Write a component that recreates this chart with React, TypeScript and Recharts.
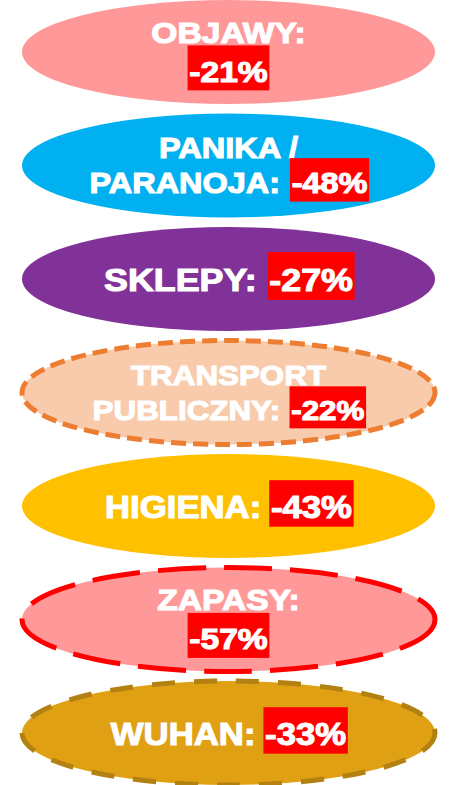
import { ScatterChart, Scatter, XAxis, YAxis } from 'recharts'

const categories = ['OBJAWY', 'PANIKA / PARANOJA', 'SKLEPY', 'TRANSPORT PUBLICZNY', 'HIGIENA', 'ZAPASY', 'WUHAN']
const changes = [-21, -48, -27, -22, -43, -57, -33]

// how the label wraps inside each ellipse
const layouts = ['stack', 'wrap', 'inline', 'wrap', 'inline', 'stack', 'inline']

const fills = ['#FF9999', '#00B0F0', '#803298', '#F8CBAD', '#FFC000', '#FF9999', '#E0A014']
const strokes = ['none', 'none', 'none', '#ED7D31', 'none', '#FF0000', '#B38012']
const dashes = ['', '', '', '15 7', '', '48 18', '23 19']
const fontSizes = [30, 29, 32, 28, 31, 30, 31]

const SX = 1.12
const FONT = '"Liberation Sans", Arial, sans-serif'

// Arial Bold advance widths (em)
const CW: Record<string, number> = {
  A: 0.722, B: 0.722, C: 0.722, D: 0.722, E: 0.667, F: 0.611, G: 0.778, H: 0.722, I: 0.278,
  J: 0.556, K: 0.722, L: 0.611, M: 0.833, N: 0.722, O: 0.778, P: 0.667, Q: 0.778, R: 0.722,
  S: 0.667, T: 0.611, U: 0.722, V: 0.667, W: 0.944, X: 0.667, Y: 0.667, Z: 0.611,
  ':': 0.333, ' ': 0.278, '/': 0.278, '-': 0.333, '%': 0.889,
}
const tw = (s: string, fs: number) => s.split('').reduce((a, c) => a + (CW[c] ?? 0.556), 0) * fs

const data = categories.map((name, i) => ({ x: 0, y: i, name, value: changes[i], i }))

const txtStyle = (fs: number) => ({
  fill: '#fff', stroke: '#fff', strokeWidth: 1.1, fontSize: fs, fontWeight: 700, fontFamily: FONT,
})

function ValueBox({ x, base, text, fs }: { x: number; base: number; text: string; fs: number }) {
  const w = tw(text, fs)
  return (
    <g>
      <rect x={x - 1.5} y={base - fs * 1.22} width={w + 3} height={fs * 1.5} fill="#FF0000" />
      <text x={x} y={base} {...txtStyle(fs)}>{text}</text>
    </g>
  )
}

function Bubble(props: any) {
  const { cx, cy, payload } = props
  const i = payload.i
  const fs = fontSizes[i]
  const val = `${payload.value}%`
  const mode = layouts[i]
  const txt = txtStyle(fs)
  let content
  if (mode === 'stack') {
    content = (
      <>
        <text x={0} y={cy - 9} textAnchor="middle" {...txt}>{payload.name}:</text>
        <ValueBox x={-tw(val, fs) / 2} base={cy + 30} text={val} fs={fs} />
      </>
    )
  } else if (mode === 'wrap') {
    const cut = payload.name.lastIndexOf(' ')
    const head = payload.name.slice(0, cut)
    const tail = payload.name.slice(cut + 1) + ':'
    const total = tw(tail + ' ', fs) + tw(val, fs)
    content = (
      <>
        <text x={0} y={cy - 7} textAnchor="middle" {...txt}>{head}</text>
        <text x={-total / 2} y={cy + 28} {...txt}>{tail}</text>
        <ValueBox x={-total / 2 + tw(tail + ' ', fs)} base={cy + 28} text={val} fs={fs} />
      </>
    )
  } else {
    const pre = payload.name + ':'
    const total = tw(pre + ' ', fs) + tw(val, fs)
    content = (
      <>
        <text x={-total / 2} y={cy + 12} {...txt}>{pre}</text>
        <ValueBox x={-total / 2 + tw(pre + ' ', fs)} base={cy + 12} text={val} fs={fs} />
      </>
    )
  }
  return (
    <g>
      <ellipse
        cx={cx}
        cy={cy}
        rx={206.5}
        ry={52}
        fill={fills[i]}
        stroke={strokes[i]}
        strokeWidth={strokes[i] === 'none' ? 0 : 5}
        strokeDasharray={dashes[i] || undefined}
      />
      <g transform={`translate(${cx} 0) scale(${SX} 1)`}>{content}</g>
    </g>
  )
}

export default function App() {
  return (
    <div style={{ position: 'absolute', left: 0, top: 0, width: 449, height: 785, background: '#fff' }}>
      <ScatterChart width={449} height={785} margin={{ top: 52, bottom: 52, left: 8, right: 0 }}>
        <XAxis type="number" dataKey="x" domain={[-1, 1]} hide />
        <YAxis type="number" dataKey="y" domain={[0, 6]} reversed hide />
        <Scatter data={data} isAnimationActive={false} shape={(p: any) => <Bubble {...p} />} />
      </ScatterChart>
    </div>
  )
}
